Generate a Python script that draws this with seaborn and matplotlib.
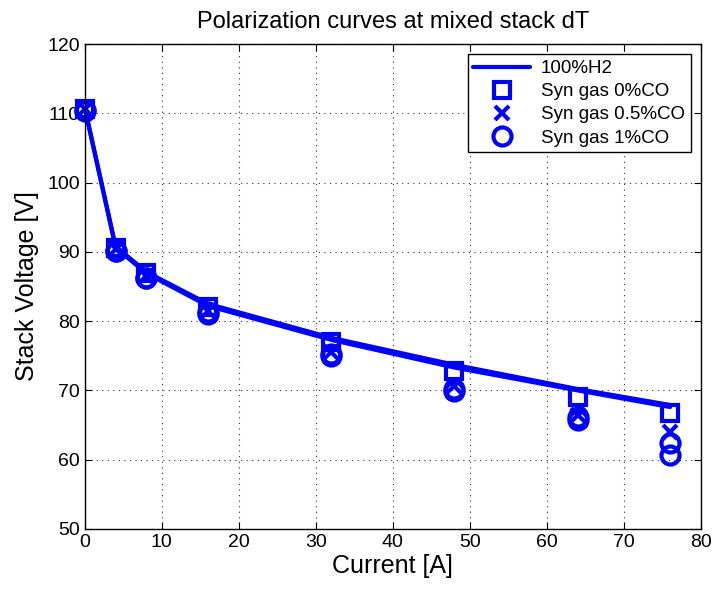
import numpy as np
import pandas as pd
import matplotlib
matplotlib.use('Agg')
import matplotlib.pyplot as plt
import seaborn as sns

# ── Data ────────────────────────────────────────────────────────────────────
current = [0, 4, 8, 16, 32, 48, 64, 76]
h2_run1 = [110.8, 90.8, 87.1, 82.5, 77.6, 73.7, 70.2, 67.9]
h2_run2 = [110.7, 90.6, 86.9, 82.2, 77.3, 73.3, 70.0, 67.6]
syn_0co = [110.7, 90.6, 86.9, 82.0, 77.0, 72.8, 69.0, 66.7]
syn_05co = [110.6, 90.4, 86.5, 81.5, 75.6, 70.7, 66.5, 64.0]
syn_1co = [110.5, 90.2, 86.3, 81.3, 75.2, 70.2, 66.2, 62.4]
syn_1co_rep = [110.4, 90.1, 86.2, 81.1, 75.0, 69.9, 65.8, 60.7]

BLUE = '#0000ff'

sns.set_style('ticks')
plt.rcParams['font.family'] = ['Liberation Sans', 'DejaVu Sans']
plt.rcParams['text.color'] = 'black'
plt.rcParams['axes.labelcolor'] = 'black'

fig = plt.figure(figsize=(7.13, 5.89), dpi=100)
ax = fig.add_axes([0.119, 0.102, 0.864, 0.823])

df = pd.DataFrame({'I': current, 'h2a': h2_run1, 'h2b': h2_run2})
sns.lineplot(data=df, x='I', y='h2a', ax=ax, color=BLUE, lw=3, label='100%H2', clip_on=False)
sns.lineplot(data=df, x='I', y='h2b', ax=ax, color=BLUE, lw=3, label='_nolegend_', clip_on=False)

mk = dict(linestyle='none', color=BLUE, mec=BLUE, mfc='none', mew=3, clip_on=False)
sns.lineplot(x=current, y=syn_0co, ax=ax, marker='s', ms=12, label='Syn gas 0%CO', **mk)
sns.lineplot(x=current, y=syn_05co, ax=ax, marker='x', ms=10, label='Syn gas 0.5%CO', **mk)
sns.lineplot(x=current, y=syn_1co, ax=ax, marker='o', ms=13, label='Syn gas 1%CO', **mk)
sns.lineplot(x=current, y=syn_1co_rep, ax=ax, marker='o', ms=13, label='_nolegend_', **mk)

ax.set_xlim(0, 80)
ax.set_ylim(50, 120)
ax.set_xticks(np.arange(0, 81, 10))
ax.set_yticks(np.arange(50, 121, 10))
ax.grid(True, linestyle=(0, (1, 4)), color='black', lw=0.8, alpha=0.8)
ax.tick_params(direction='in', top=True, right=True, length=5, width=0.8,
               labelsize=14, colors='black')
for s in ax.spines.values():
    s.set_visible(True)
    s.set_linewidth(1.0)
    s.set_color('black')

ax.set_xlabel('Current [A]', fontsize=18, labelpad=2)
ax.set_ylabel('Stack Voltage [V]', fontsize=18, labelpad=6)
ax.set_title('Polarization curves at mixed stack dT', fontsize=17, pad=12)

leg = ax.legend(loc='upper right', fontsize=13.5, frameon=True, fancybox=False,
                edgecolor='black', framealpha=1, borderpad=0.3, labelspacing=0.32,
                handlelength=3.0, handletextpad=0.6, borderaxespad=0.55)
leg.get_frame().set_linewidth(1.0)
for h in leg.legend_handles:
    h.set_clip_on(False)

fig.savefig('out.png', dpi=100)
